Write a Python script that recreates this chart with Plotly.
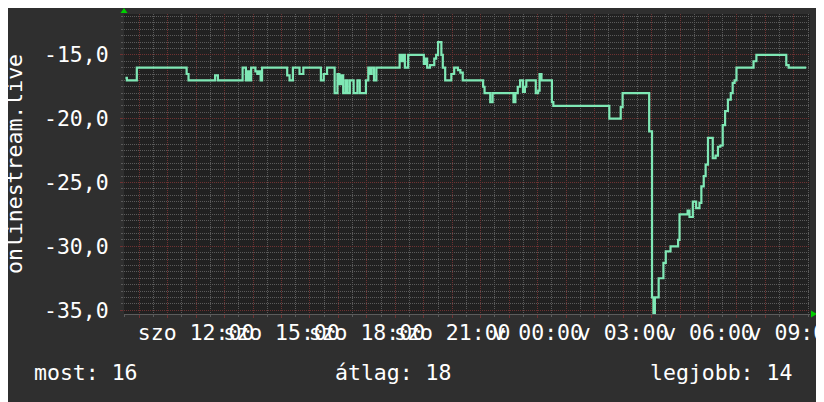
import plotly.graph_objects as go
import pandas as pd

# ---- data ----
times = [
    "2024-03-09 09:31", "2024-03-09 09:34", "2024-03-09 09:55", "2024-03-09 11:40", "2024-03-09 11:44",
    "2024-03-09 12:40", "2024-03-09 12:46", "2024-03-09 13:38", "2024-03-09 13:45", "2024-03-09 13:49",
    "2024-03-09 13:53", "2024-03-09 13:56", "2024-03-09 14:05", "2024-03-09 14:09", "2024-03-09 14:13",
    "2024-03-09 14:16", "2024-03-09 14:19", "2024-03-09 15:12", "2024-03-09 15:17", "2024-03-09 15:24",
    "2024-03-09 15:38", "2024-03-09 15:46", "2024-03-09 16:23", "2024-03-09 16:29", "2024-03-09 16:36",
    "2024-03-09 16:52", "2024-03-09 16:58", "2024-03-09 17:02", "2024-03-09 17:06", "2024-03-09 17:10",
    "2024-03-09 17:15", "2024-03-09 17:19", "2024-03-09 17:24", "2024-03-09 17:32", "2024-03-09 17:40",
    "2024-03-09 17:45", "2024-03-09 17:58", "2024-03-09 18:03", "2024-03-09 18:07", "2024-03-09 18:10",
    "2024-03-09 18:15", "2024-03-09 18:20", "2024-03-09 19:09", "2024-03-09 19:13", "2024-03-09 19:16",
    "2024-03-09 19:20", "2024-03-09 19:27", "2024-03-09 20:00", "2024-03-09 20:04", "2024-03-09 20:07",
    "2024-03-09 20:13", "2024-03-09 20:22", "2024-03-09 20:26", "2024-03-09 20:30", "2024-03-09 20:37",
    "2024-03-09 20:40", "2024-03-09 20:45", "2024-03-09 20:58", "2024-03-09 21:04", "2024-03-09 21:12",
    "2024-03-09 21:17", "2024-03-09 21:22", "2024-03-09 22:05", "2024-03-09 22:08", "2024-03-09 22:20",
    "2024-03-09 22:25", "2024-03-09 23:09", "2024-03-09 23:13", "2024-03-09 23:18", "2024-03-09 23:23",
    "2024-03-09 23:29", "2024-03-09 23:33", "2024-03-09 23:36", "2024-03-09 23:56", "2024-03-10 00:01",
    "2024-03-10 00:04", "2024-03-10 00:08", "2024-03-10 00:30", "2024-03-10 00:33", "2024-03-10 02:31",
    "2024-03-10 02:55", "2024-03-10 02:59", "2024-03-10 03:55", "2024-03-10 04:01", "2024-03-10 04:04",
    "2024-03-10 04:07", "2024-03-10 04:15", "2024-03-10 04:25", "2024-03-10 04:30", "2024-03-10 04:40",
    "2024-03-10 04:56", "2024-03-10 04:59", "2024-03-10 05:16", "2024-03-10 05:20", "2024-03-10 05:27",
    "2024-03-10 05:34", "2024-03-10 05:41", "2024-03-10 05:45", "2024-03-10 05:50", "2024-03-10 05:54",
    "2024-03-10 05:59", "2024-03-10 06:09", "2024-03-10 06:15", "2024-03-10 06:20", "2024-03-10 06:25",
    "2024-03-10 06:30", "2024-03-10 06:35", "2024-03-10 06:41", "2024-03-10 06:47", "2024-03-10 06:51",
    "2024-03-10 06:55", "2024-03-10 06:59", "2024-03-10 07:35", "2024-03-10 07:41", "2024-03-10 08:44",
    "2024-03-10 08:49", "2024-03-10 09:26",
]
values = [
    -16.8, -17, -16, -16.5, -17,
    -16.6, -17, -16, -17, -16.3,
    -17, -16, -16.3, -16.5, -16.3,
    -17, -16, -16.6, -17, -16,
    -16.5, -16, -17, -16.5, -16,
    -18, -16.5, -17.3, -16.6, -18,
    -17, -18, -17, -18, -17,
    -18, -17, -16, -16.5, -16,
    -17, -16, -15, -15.5, -15,
    -16, -15, -15.7, -15.3, -16,
    -15.8, -15.3, -15, -14, -15,
    -16, -17, -16.5, -16, -16.2,
    -16.4, -17, -17.5, -18, -18.7,
    -18, -18.7, -18, -17.5, -17,
    -17.9, -17.5, -17, -18, -17.8,
    -16.5, -17, -18.7, -19, -20,
    -19.1, -18, -21, -34, -35.3,
    -34, -32.5, -31.3, -30.4, -30,
    -29.5, -27.5, -27.2, -27.7, -26.5,
    -27, -26.6, -25.3, -24.5, -23.6,
    -21.5, -23.1, -22.9, -22.2, -22.1,
    -20.5, -19.4, -18.5, -18, -17.2,
    -17, -16, -15.5, -15, -15.8,
    -16, -16,
]

x_range = ["2024-03-09 09:28", "2024-03-10 09:34"]
y_range = [-35.3, -11.8]

x_label_times = ["2024-03-09 12:00", "2024-03-09 15:00", "2024-03-09 18:00", "2024-03-09 21:00",
                 "2024-03-10 00:00", "2024-03-10 03:00", "2024-03-10 06:00", "2024-03-10 09:00"]
x_label_text = ["szo 12:00", "szo 15:00", "szo 18:00", "szo 21:00",
                "v 00:00", "v 03:00", "v 06:00", "v 09:00"]

y_tick_vals = [-35, -30, -25, -20, -15]
y_tick_text = ["-35,0", "-30,0", "-25,0", "-20,0", "-15,0"]

y_title = "onlinestream.live"
summary_labels = ["most", "átlag", "legjobb"]
summary_values = [16, 18, 14]

# ---- styling ----
FONT = "DejaVu Sans Mono"
FS = 21.5
BG = "#2f2f2f"
PLOT_BG = "#212121"
MINOR = "#5a5a5a"
MAJOR = "#6e3232"
LINE = "#7fe8b5"
TXT = "#ffffff"

# hourly major grid, labels only every 3 hours
hours = pd.date_range("2024-03-09 10:00", "2024-03-10 09:00", freq="1h")
label_map = dict(zip(pd.to_datetime(x_label_times), x_label_text))
x_tickvals = [h.strftime("%Y-%m-%d %H:%M") for h in hours]
x_ticktext = [label_map.get(h, "") for h in hours]

fig = go.Figure()
fig.add_trace(go.Scatter(
    x=times, y=values, mode="lines",
    line=dict(color=LINE, width=2.2, shape="hv"),
    hoverinfo="skip", showlegend=False,
))

# the page places the figure 8px in from the top-left corner;
# plot area ends up at x 124..810, y 14..314 of the window
fig.update_layout(
    width=816, height=394,
    margin=dict(l=116, r=14, t=6, b=88),
    paper_bgcolor=BG, plot_bgcolor=PLOT_BG,
    font=dict(family=FONT, size=FS, color=TXT),
    showlegend=False,
)

fig.update_xaxes(
    type="date", range=x_range, automargin=False,
    tickmode="array", tickvals=x_tickvals, ticktext=x_ticktext,
    tickangle=0, ticklabeloverflow="allow", ticklabelstandoff=-4,
    ticks="outside", ticklen=3, tickcolor=MAJOR,
    tickfont=dict(family=FONT, size=FS, color=TXT),
    showgrid=True, gridcolor=MAJOR, griddash="1px,1px", gridwidth=1,
    showline=True, linecolor="#5c5c5c", linewidth=1,
    zeroline=False,
    minor=dict(dtick=30 * 60 * 1000, tick0="2024-03-09 00:00", showgrid=True,
               gridcolor=MINOR, griddash="1px,1px", ticks="outside", ticklen=2,
               tickcolor=MINOR),
)

fig.update_yaxes(
    range=y_range, automargin=False,
    tickmode="array", tickvals=y_tick_vals, ticktext=y_tick_text,
    ticks="outside", ticklen=3, tickcolor=MAJOR, ticklabelstandoff=7,
    tickfont=dict(family=FONT, size=FS, color=TXT),
    showgrid=True, gridcolor=MAJOR, griddash="1px,1px", gridwidth=1,
    showline=False, zeroline=False,
    minor=dict(dtick=0.5, tick0=0, showgrid=True, gridcolor=MINOR,
               griddash="1px,1px", ticks="outside", ticklen=2, tickcolor=MINOR),
)

# y-axis title (rotated)
fig.add_annotation(
    text=y_title, textangle=-90, showarrow=False,
    xref="paper", yref="paper", x=0, y=0.5, xanchor="center", yanchor="middle",
    xshift=-110, font=dict(family=FONT, size=FS, color=TXT),
)

# summary line at the bottom
summary_shift = [-92, 209, 524]
for lab, val, sh in zip(summary_labels, summary_values, summary_shift):
    fig.add_annotation(
        text=f"{lab}: {val}", showarrow=False,
        xref="paper", yref="paper", x=0, y=0, xanchor="left", yanchor="middle",
        xshift=sh, yshift=-58, font=dict(family=FONT, size=FS, color=TXT),
    )

# green arrow heads at the axis ends
fig.add_shape(type="path", xref="paper", yref="paper", xsizemode="pixel", ysizemode="pixel",
              xanchor=0, yanchor=1, path="M -3.5 1 L 3.5 1 L 0 6 Z",
              fillcolor="#00d000", line=dict(width=0))
fig.add_shape(type="path", xref="paper", yref="paper", xsizemode="pixel", ysizemode="pixel",
              xanchor=1, yanchor=0, path="M 1 3.5 L 1 -3.5 L 7 0 Z",
              fillcolor="#00d000", line=dict(width=0))

fig.write_html("out.html")
